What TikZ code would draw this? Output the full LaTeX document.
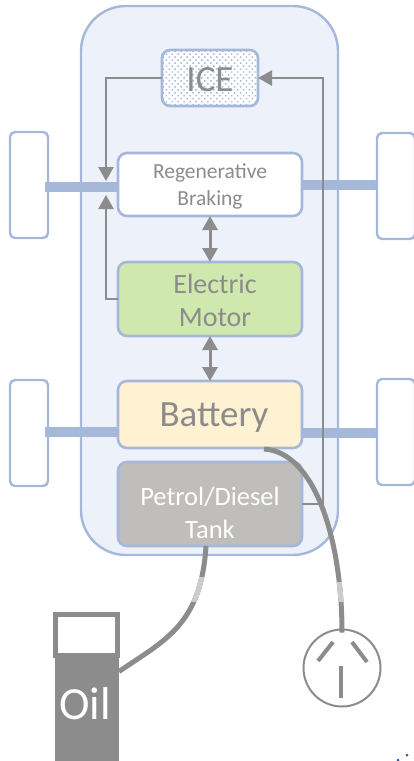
\documentclass[tikz,border=0pt]{standalone}
\usepackage{xcolor}
\usepackage{fontspec}
\setmainfont{Carlito}
\usetikzlibrary{arrows.meta, positioning, patterns.meta}
\definecolor{edge}{HTML}{A5B8DA}
\definecolor{bodybg}{HTML}{EDF2FA}
\definecolor{ink}{HTML}{8C8C8C}
\definecolor{cablelight}{HTML}{CCCCCC}
\definecolor{motorbg}{HTML}{CEE8AE}
\definecolor{batterybg}{HTML}{FFF2D2}
\definecolor{tankbg}{HTML}{BFBEBD}
\definecolor{speck}{HTML}{2F5CA8}
\newcommand{\batterycable}{(battery.south) ++(54pt,-1pt) .. controls +(51pt,-3pt) and (342,540) .. ([yshift=-3pt]socket.north)}
\newcommand{\oilcable}{(tank.south) ++(-4pt,0pt) .. controls (201,625) and (165,640) .. ([yshift=-14pt]pumpbody.north east)}
\begin{document}
\begin{tikzpicture}[
  x=1pt, y=-1pt,
  part/.style={draw=edge, line width=2.6pt, rounded corners=9pt, fill=white, outer sep=0pt,
               minimum width=184pt, align=center, text=ink, inner sep=0pt},
  wheel/.style={draw=edge, line width=2.4pt, rounded corners=5pt, fill=white, outer sep=0pt,
                minimum width=38pt, minimum height=106pt},
  axle/.style={draw=edge, line width=10pt},
  arr/.style={-{Stealth[length=14pt, width=15pt, inset=0pt]}, draw=ink, line width=2.4pt},
  dblarr/.style={{Stealth[length=14pt, width=15pt, inset=0pt]}-{Stealth[length=14pt, width=15pt, inset=0pt]},
                 draw=ink, line width=3pt},
  cable/.style={draw=ink, line width=5pt},
  prong/.style={draw=ink, line width=4pt},
  partlabel/.style={align=center, text=ink, inner sep=0pt}
]
  \useasboundingbox (0,0) rectangle (414,761);

  % Car body
  \node[draw=edge, line width=2.4pt, fill=bodybg, rounded corners=45pt, outer sep=0pt,
        minimum width=257pt, minimum height=549pt] (carbody) at (209.5,280.5) {};

  % Wheels
  \node[wheel] (wheelfl) at (29,185) {};
  \node[wheel] (wheelfr) at (396,186) {};
  \node[wheel] (wheelrl) at (29,433) {};
  \node[wheel] (wheelrr) at (396,432) {};

  % Axles
  \draw[axle] ([xshift=-3pt]wheelfl.east |- 0,187) -- (125,187);
  \draw[axle] (295,185) -- (wheelfr.west |- 0,185);
  \draw[axle] ([xshift=-3pt]wheelrl.east |- 0,432) -- (125,432);
  \draw[axle] (295,433) -- (wheelrr.west |- 0,433);

  % Parts
  \node[part, rounded corners=8pt, minimum width=96pt, minimum height=56pt,
        preaction={fill=white},
        pattern={Dots[radius=1.05pt, distance=4.2pt, angle=45]}, pattern color=edge,
        label={[partlabel, font=\fontsize{37}{37}\selectfont, yshift=-2pt]center:ICE}] (ice) at (210,78) {};
  \node[part, minimum height=63pt, below=47pt of ice,
        label={[partlabel, font=\fontsize{21.5}{27}\selectfont, yshift=-1.5pt]center:{Regenerative\\Braking}}] (regen) {};
  \node[part, minimum height=74pt, below=46pt of regen, fill=motorbg,
        label={[partlabel, font=\fontsize{28}{33}\selectfont, xshift=5pt, yshift=-1pt]center:{Electric\\Motor}}] (motor) {};
  \node[part, minimum height=67pt, below=45pt of motor, fill=batterybg,
        label={[partlabel, font=\fontsize{37}{37}\selectfont, xshift=4pt, yshift=-3pt]center:Battery}] (battery) {};
  \node[part, minimum height=84pt, below=14pt of battery, fill=tankbg,
        label={[partlabel, text=white, font=\fontsize{26.5}{33}\selectfont, yshift=-9pt]center:{Petrol/Diesel\\Tank}}] (tank) {};

  % Pump and socket
  \node[draw=ink, line width=5pt, fill=white, outer sep=0pt, minimum width=62pt, minimum height=41pt, inner sep=0pt] (pumptop) at (86.5,635) {};
  \node[fill=ink, outer sep=0pt, minimum width=64pt, minimum height=104pt, inner sep=0pt,
        label={[font=\fontsize{46}{46}\selectfont, text=white, xshift=-2pt, yshift=6pt]center:Oil}] (pumpbody) at (87,709.5) {};
  \node[circle, draw=ink, line width=2pt, fill=white, outer sep=0pt, minimum size=77pt, inner sep=0pt] (socket) at (342,668) {};

  % Arrows
  \draw[arr] (ice.west) -| (106,181);
  \draw[arr] (motor.west) -| (106,195);
  \draw[arr] (tank.east) -- ++(21pt,0pt) |- (ice.east);
  \draw[dblarr] (regen.south -| 210,0) -- (motor.north -| 210,0);
  \draw[dblarr] (motor.south -| 210,0) -- (battery.north -| 210,0);

  % Cables
  \draw[cable] \batterycable;
  \begin{scope}
    \clip (300,582) rectangle (400,601);
    \draw[cable, draw=cablelight] \batterycable;
  \end{scope}
  \draw[cable] \oilcable;
  \begin{scope}
    \clip (150,577) rectangle (250,601);
    \draw[cable, draw=cablelight] \oilcable;
  \end{scope}

  % Socket pins
  \coordinate (pinla) at ([shift={(-9pt,26pt)}]socket.center);
  \coordinate (pinlb) at ([shift={(-24pt,7pt)}]socket.center);
  \coordinate (pinra) at ([shift={(10pt,26pt)}]socket.center);
  \coordinate (pinrb) at ([shift={(25pt,6pt)}]socket.center);
  \coordinate (pinba) at ([shift={(-1pt,2pt)}]socket.center);
  \coordinate (pinbb) at ([shift={(-1pt,-30pt)}]socket.center);
  \draw[prong] (pinla) -- (pinlb);
  \draw[prong] (pinra) -- (pinrb);
  \draw[prong] (pinba) -- (pinbb);

  % Specks in the corner
  \node[fill=speck, circle, minimum size=3pt, inner sep=0pt] (specka) at (407,755) {};
  \node[fill=speck, circle, minimum size=3pt, inner sep=0pt] (speckb) at (398,760) {};
\end{tikzpicture}
\end{document}
